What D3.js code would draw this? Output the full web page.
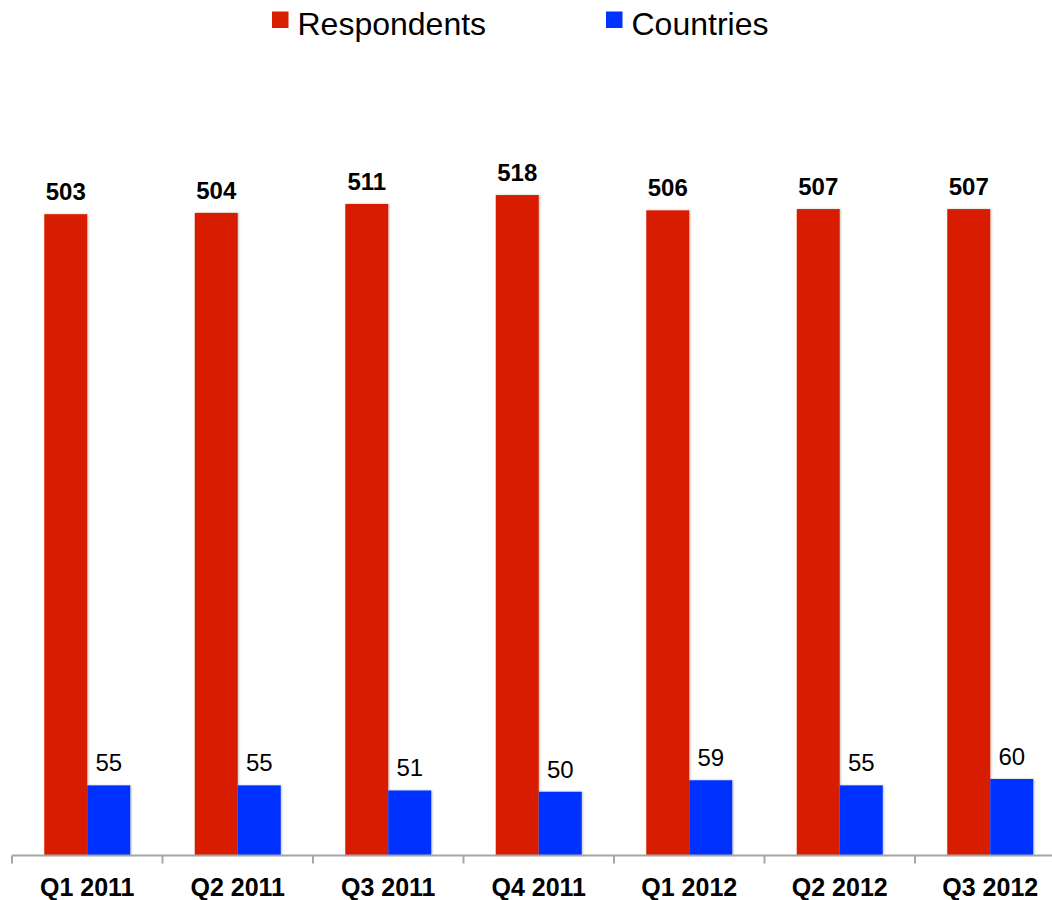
<!DOCTYPE html>
<html>
<head>
<meta charset="utf-8">
<script src="https://cdn.jsdelivr.net/npm/d3@7"></script>
<style>
  html, body { margin: 0; padding: 0; background: #fff; }
  svg { display: block; font-family: "Liberation Sans", Arial, sans-serif; }
</style>
</head>
<body>
<svg id="chart" width="1052" height="900"></svg>
<script>
// Quarterly survey participation
const categories = ["Q1 2011", "Q2 2011", "Q3 2011", "Q4 2011", "Q1 2012", "Q2 2012", "Q3 2012"];
const seriesNames = ["Respondents", "Countries"];
const respondents = [503, 504, 511, 518, 506, 507, 507];
const countries = [55, 55, 51, 50, 59, 55, 60];

const colors = { Respondents: "#d81f00", Countries: "#0033ff" };
const valuesBySeries = { Respondents: respondents, Countries: countries };

const svg = d3.select("#chart");

const baseline = 855.5;
const left = 12;
const step = 150.5;

const x0 = d3.scaleBand()
  .domain(categories)
  .range([left, left + step * categories.length])
  .padding(0);

const groupWidth = 86;
const x1 = d3.scaleBand()
  .domain(seriesNames)
  .range([0, groupWidth])
  .padding(0);

const y = d3.scaleLinear()
  .domain([0, 600])
  .range([baseline, baseline - 765]);

// soft shadow on the bars
const defs = svg.append("defs");
const f = defs.append("filter").attr("id", "shadow")
  .attr("x", "-10%").attr("y", "-5%").attr("width", "125%").attr("height", "110%");
f.append("feDropShadow")
  .attr("dx", 1).attr("dy", 0).attr("stdDeviation", 1)
  .attr("flood-color", "#000").attr("flood-opacity", 0.25);

const rows = categories.map((c, i) => ({
  category: c,
  values: seriesNames.map(s => ({ series: s, value: valuesBySeries[s][i] }))
}));

const groups = svg.append("g")
  .selectAll("g")
  .data(rows)
  .join("g")
  .attr("transform", d => `translate(${x0(d.category) + (x0.bandwidth() - groupWidth) / 2},0)`);

groups.selectAll("rect")
  .data(d => d.values)
  .join("rect")
  .attr("x", d => x1(d.series))
  .attr("y", d => y(d.value))
  .attr("width", x1.bandwidth())
  .attr("height", d => baseline - y(d.value))
  .attr("fill", d => colors[d.series])
  .attr("filter", "url(#shadow)");

groups.selectAll("text")
  .data(d => d.values)
  .join("text")
  .attr("x", d => x1(d.series) + x1.bandwidth() / 2)
  .attr("y", d => y(d.value) - 14)
  .attr("text-anchor", "middle")
  .attr("font-size", 24)
  .attr("font-weight", d => d.series === "Respondents" ? "bold" : "normal")
  .attr("fill", "#000")
  .text(d => d.value);

// category axis with ticks on band boundaries
const axis = svg.append("g");
axis.append("line")
  .attr("x1", x0.range()[0]).attr("x2", x0.range()[1])
  .attr("y1", baseline).attr("y2", baseline)
  .attr("stroke", "#a6a6a6").attr("stroke-width", 2);

const boundaries = categories.map(c => x0(c)).concat([x0.range()[1]]);
axis.selectAll("line.tick")
  .data(boundaries)
  .join("line")
  .attr("class", "tick")
  .attr("x1", d => d).attr("x2", d => d)
  .attr("y1", baseline).attr("y2", baseline + 8)
  .attr("stroke", "#a6a6a6").attr("stroke-width", 2);

const labelAxis = d3.axisBottom(x0).tickSize(0).tickPadding(0);
const la = svg.append("g")
  .attr("transform", `translate(0,${baseline})`)
  .call(labelAxis);
la.select(".domain").remove();
la.selectAll("text")
  .attr("y", 40.5)
  .attr("dy", 0)
  .attr("font-size", 25)
  .attr("font-weight", "bold")
  .attr("font-family", "'Liberation Sans', Arial, sans-serif")
  .attr("fill", "#000");

// legend
const legendItems = [
  { name: "Respondents", x: 272 },
  { name: "Countries", x: 606 }
];
const legend = svg.append("g")
  .selectAll("g")
  .data(legendItems)
  .join("g")
  .attr("transform", d => `translate(${d.x},0)`);
legend.append("rect")
  .attr("x", 0).attr("y", 11.5)
  .attr("width", 16.5).attr("height", 16.5)
  .attr("fill", d => colors[d.name]);
legend.append("text")
  .attr("x", 25.5).attr("y", 34.5)
  .attr("font-size", 32)
  .attr("fill", "#000")
  .text(d => d.name);
</script>
</body>
</html>
